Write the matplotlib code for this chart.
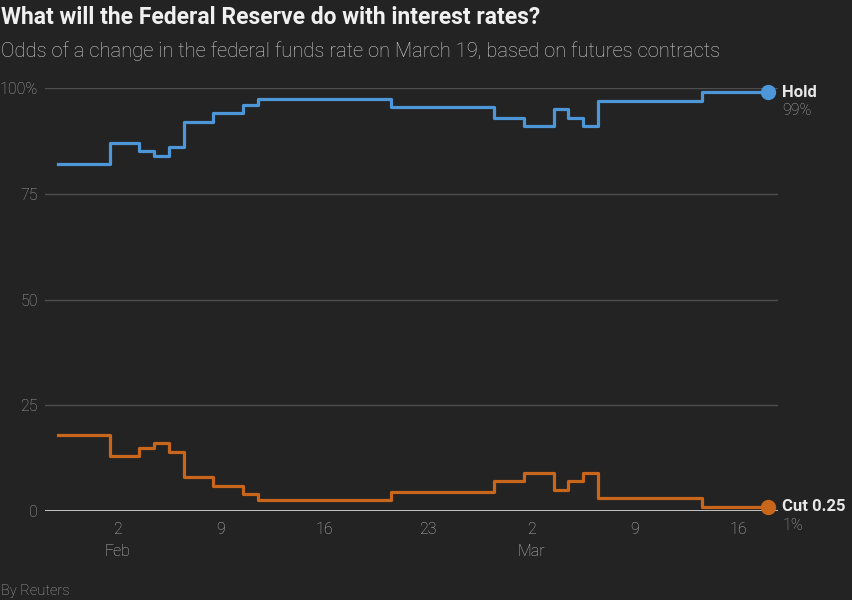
import matplotlib
matplotlib.use("Agg")
import matplotlib.pyplot as plt
import pandas as pd

# daily odds (%) from CME futures, Jan 29 - Mar 18 2025
dates = pd.date_range("2025-01-29", "2025-03-18", freq="D")
hold = ([82] * 4 + [87] * 2 + [85, 84, 86] + [92] * 2 + [94] * 2 + [96]
        + [97.5] * 9 + [95.5] * 7 + [93] * 2 + [91] * 2 + [95, 93, 91]
        + [97] * 7 + [99] * 5)
cut = ([18] * 4 + [13] * 2 + [15, 16, 14] + [8] * 2 + [6] * 2 + [4]
       + [2.5] * 9 + [4.5] * 7 + [7] * 2 + [9] * 2 + [5, 7, 9]
       + [3] * 7 + [1] * 5)

tick_dates = pd.to_datetime(["2025-02-02", "2025-02-09", "2025-02-16", "2025-02-23",
                             "2025-03-02", "2025-03-09", "2025-03-16"])
tick_labels = ["2\nFeb", "9", "16", "23", "2\nMar", "9", "16"]
y_ticks = [0, 25, 50, 75, 100]
y_labels = ["0", "25", "50", "75", "100%"]

BG = "#232323"
BLUE = "#4d97d9"
ORANGE = "#c8661c"
plt.rcParams["font.family"] = ["Roboto", "DejaVu Sans"]

W, H = 852, 600
fig = plt.figure(figsize=(W / 100, H / 100), dpi=100, facecolor=BG)
ax = fig.add_axes([45 / W, 1 - 511 / H, (778 - 45) / W, (511 - 88) / H], facecolor=BG)

# grid
for y in y_ticks[1:]:
    ax.axhline(y, color="#4e4e4e", lw=1, zorder=1)
ax.axhline(0, color="#d0d0d0", lw=1.3, zorder=1)

ax.step(dates, hold, where="mid", color=BLUE, lw=2.3, zorder=3, clip_on=False)
ax.step(dates, cut, where="mid", color=ORANGE, lw=2.3, zorder=3, clip_on=False)
ax.plot(dates[-1], hold[-1], "o", color=BLUE, ms=10, zorder=4, clip_on=False)
ax.plot(dates[-1], cut[-1], "o", color=ORANGE, ms=10, zorder=4, clip_on=False)

ax.set_ylim(0, 100)
ax.set_xlim(pd.Timestamp("2025-01-28 03:00"), pd.Timestamp("2025-03-18 16:00"))
ax.set_yticks(y_ticks)
ax.set_yticklabels(y_labels, fontweight="light")
ax.set_xticks(tick_dates)
ax.set_xticklabels(tick_labels, linespacing=1.55, fontweight="light")
ax.tick_params(axis="y", length=0, pad=5, labelsize=11.5, labelcolor="#a8a8a8")
ax.tick_params(axis="x", length=0, pad=8, labelsize=11.5, labelcolor="#bdbdbd")
for s in ax.spines.values():
    s.set_visible(False)

# end labels
ax.annotate("Hold", (dates[-1], hold[-1]), xytext=(10, 0), textcoords="offset points",
            va="center", ha="left", fontsize=12, fontweight="bold", color="#e8e8e8")
ax.annotate(f"{hold[-1]}%", (dates[-1], hold[-1]), xytext=(10, -13.5), textcoords="offset points",
            va="center", ha="left", fontsize=11.5, fontweight="light", color="#a8a8a8")
ax.annotate("Cut 0.25", (dates[-1], cut[-1]), xytext=(10, 0), textcoords="offset points",
            va="center", ha="left", fontsize=12, fontweight="bold", color="#e8e8e8")
ax.annotate(f"{cut[-1]}%", (dates[-1], cut[-1]), xytext=(10, -13.5), textcoords="offset points",
            va="center", ha="left", fontsize=11.5, fontweight="light", color="#a8a8a8")

fig.text(1 / W, 1 - 18 / H, "What will the Federal Reserve do with interest rates?",
         fontsize=16.5, fontweight="bold", color="#f0f0f0", va="center", ha="left")
fig.text(1 / W, 1 - 51 / H, "Odds of a change in the federal funds rate on March 19, based on futures contracts",
         fontsize=14.5, fontweight="light", color="#d0d0d0", va="center", ha="left")
fig.text(1 / W, 1 - 591 / H, "By Reuters", fontsize=10.5, fontweight="light", color="#a8a8a8",
         va="center", ha="left")

fig.savefig("out.png", dpi=100, facecolor=BG)
